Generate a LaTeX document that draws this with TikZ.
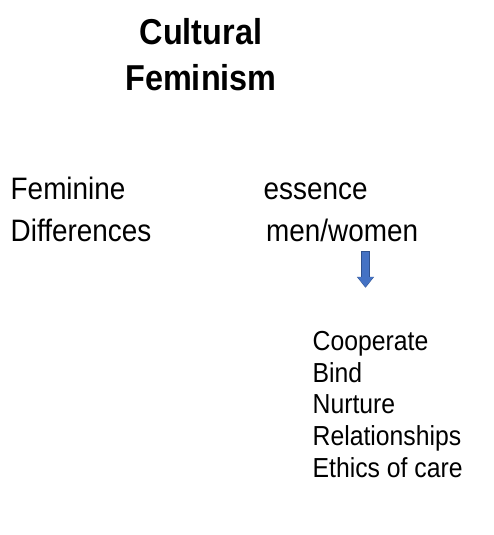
\documentclass[tikz,border=0pt]{standalone}
\usepackage{fontspec}
\setmainfont{Liberation Sans}[FakeStretch=0.9]
\usetikzlibrary{arrows.meta}
\definecolor{arrowblue}{HTML}{4472C4}
\definecolor{arrowedge}{HTML}{2F528F}

\tikzset{
  title/.style={font=\fontsize{36}{40}\selectfont\bfseries, anchor=base, inner sep=0pt},
  word/.style={font=\fontsize{31}{36}\selectfont, anchor=base west, inner sep=0pt},
  item/.style={font=\fontsize{27.5}{32}\selectfont, anchor=base west, inner sep=0pt},
  arrowrim/.style={draw=arrowedge, line width=8.4pt, -{Triangle[width=16.6pt,length=11pt]}},
  downarrow/.style={draw=arrowblue, line width=7pt, -{Triangle[width=15pt,length=10pt]}}
}

\begin{document}
\begin{tikzpicture}[x=1pt, y=-1pt]

\useasboundingbox (0, 0) rectangle (494, 535);

       % heading
\node [title] (cultural) at (201, 45) {Cultural};
\node [title] (feminism) at (201, 90) {Feminism};

       % left column
\node [word] (feminine) at (10.5, 199) {Feminine};
\node [word] (differences) at (10.5, 241) {Differences};

       % right column
\node [word] (essence) at (263.5, 199) {essence};
\node [word] (menwomen) at (266, 241) {men/women};

	%arrow
\coordinate (arrtop) at (365.5, 252);
\coordinate (arrbot) at (365.5, 287);
\coordinate (rimtop) at (365.5, 251.3);
\coordinate (rimbot) at (365.5, 287.8);
\draw [arrowrim] (rimtop) -- (rimbot);
\draw [downarrow] (arrtop) -- (arrbot);

	%list of traits
\node [item] (cooperate) at (312.5, 350) {Cooperate};
\node [item] (bind) at (312.5, 382) {Bind};
\node [item] (nurture) at (312.5, 413) {Nurture};
\node [item] (relationships) at (312.5, 445) {Relationships};
\node [item] (ethics) at (312.5, 477) {Ethics of care};

\end{tikzpicture}
\end{document}
